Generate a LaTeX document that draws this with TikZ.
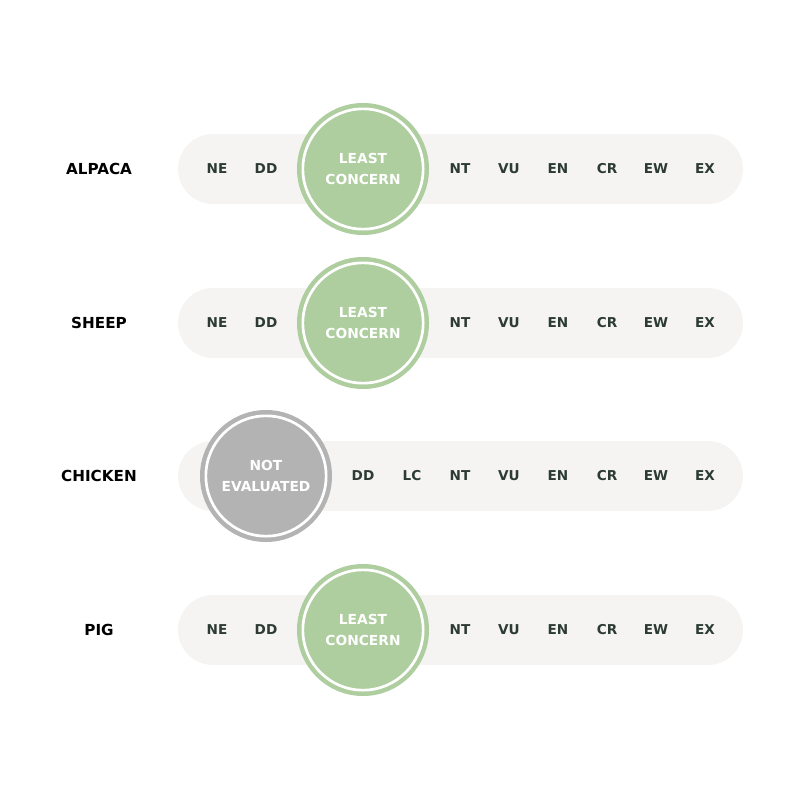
\documentclass[tikz,border=0pt]{standalone}
\usepackage{fontspec}
\setmainfont{DejaVu Sans}
\usepackage{xcolor}
\usepackage{tikz}
\usetikzlibrary{positioning}

\definecolor{barbg}{HTML}{F5F4F2}
\definecolor{lcgreen}{HTML}{AECE9F}
\definecolor{negray}{HTML}{B3B3B3}
\definecolor{cattext}{HTML}{2D3B35}

\tikzset{
  bar/.style={fill=barbg,rounded corners=35pt,minimum width=565pt,minimum height=70pt,inner sep=0pt},
  cat/.style={font=\bfseries\fontsize{13.6}{15}\selectfont,text=cattext},
  animal/.style={font=\bfseries\fontsize{15.2}{17}\selectfont},
  badge/.style={circle,minimum size=120.3pt,inner sep=0pt,fill=#1,draw=#1,line width=4.5pt,
    double=white,double distance=2.7pt,text=white,align=center,font=\bfseries\fontsize{13.8}{21}\selectfont}
}

\begin{document}
\begin{tikzpicture}[x=1pt,y=-1pt]
  \useasboundingbox (0,0) rectangle (800,800);
  % 行と帯
  \foreach \name/\txt/\y in {alpaca/ALPACA/169,sheep/SHEEP/323,chicken/CHICKEN/476,pig/PIG/630}{
    \node[animal] (\name) at (99,\y) {\txt};
    \node[bar] (bar-\name) at (460.5,\y) {};
  }
  % 区分 (LC)
  \foreach \name/\y in {alpaca/169,sheep/323,pig/630}{
    \foreach \c/\x in {NE/217,DD/266,NT/460,VU/509,EN/558,CR/607,EW/656,EX/705}
      \node[cat] (\name-\c) at (\x,\y) {\c};
    \node[badge=lcgreen] (\name-LC) at (363,\y) {LEAST\\CONCERN};
  }
  % 区分 (NE)
  \foreach \c/\x in {DD/363,LC/412,NT/460,VU/509,EN/558,CR/607,EW/656,EX/705}
    \node[cat] (chicken-\c) at (\x,476) {\c};
  \node[badge=negray] (chicken-NE) at (266,476) {NOT\\EVALUATED};
\end{tikzpicture}
\end{document}
